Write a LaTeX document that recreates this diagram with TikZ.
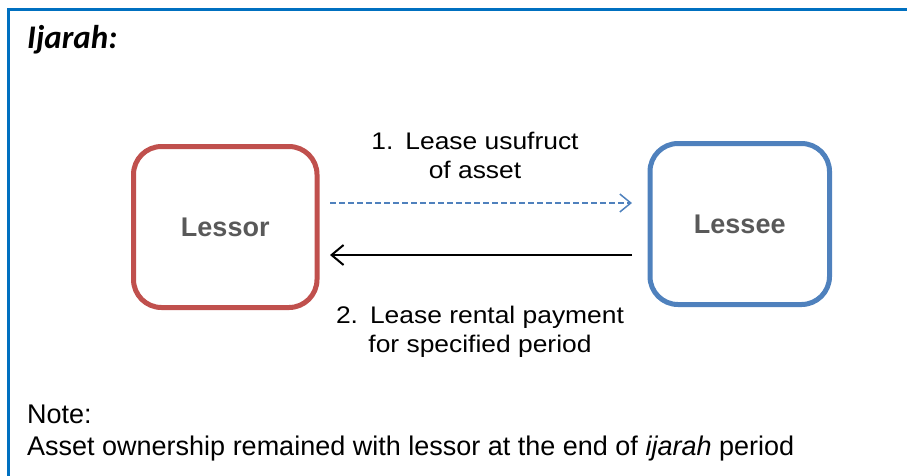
\documentclass[tikz,border=0pt]{standalone}
\usepackage{fontspec}
\setmainfont{Liberation Sans}
\newfontfamily\titlefont{Carlito}
\newfontfamily\widefont[FakeStretch=1.1]{Liberation Sans}
\usetikzlibrary{arrows.meta,calc}
\definecolor{framec}{HTML}{0070C0}
\definecolor{redc}{HTML}{C0504D}
\definecolor{bluec}{HTML}{4F81BD}
\definecolor{grayt}{HTML}{595959}
\tikzset{
  party/.style={draw, line width=5pt, rounded corners=28pt, minimum height=161pt,
    inner sep=0pt, text=grayt, font=\fontsize{27}{32}\selectfont\bfseries},
  label/.style={inner sep=0pt, align=center, font=\widefont\fontsize{24}{29}\selectfont},
  dasharrow/.style={draw=bluec, line width=1.5pt, dash pattern=on 6pt off 3pt,
    -{Straight Barb[length=11pt,width=18pt,line width=1.5pt]}},
  solidarrow/.style={draw=black, line width=2pt,
    -{Straight Barb[length=12pt,width=20pt,line width=2pt]}},
  frame/.style={draw=framec, line width=3pt}
}
\begin{document}
\begin{tikzpicture}[x=1pt,y=-1pt]
\useasboundingbox (0,0) rectangle (907,475);
\draw[frame] (910,9.5) -- (8,9.5) -- (8,478);
\node[anchor=base west, inner sep=0pt, font=\titlefont\fontsize{33}{38}\selectfont\bfseries\itshape] (title) at (27,48) {Ijarah:};
\node[party, draw=redc, minimum width=183.5pt] (lessor) at (225.25,227) {Lessor};
\node[party, draw=bluec, minimum width=179.5pt] (lessee) at (739.75,224) {Lessee};
\draw[dasharrow] ($(lessor.east)+(10.5,-24)$) -- ($(lessee.west)+(-15.5,-21)$);
\draw[solidarrow] ($(lessee.west)+(-15.5,31)$) -- ($(lessor.east)+(10.5,28)$);
\node[label, anchor=north] (l1) at (475,132) {1.\enspace Lease usufruct\\of asset};
\node[label, anchor=north] (l2) at (480,305.5) {2.\enspace Lease rental payment\\for specified period};
\node[anchor=north west, inner sep=0pt, align=left, font=\fontsize{27}{32}\selectfont] (note) at (27,404.7) {Note:\\Asset ownership remained with lessor at the end of \textit{ijarah} period};
\end{tikzpicture}
\end{document}
